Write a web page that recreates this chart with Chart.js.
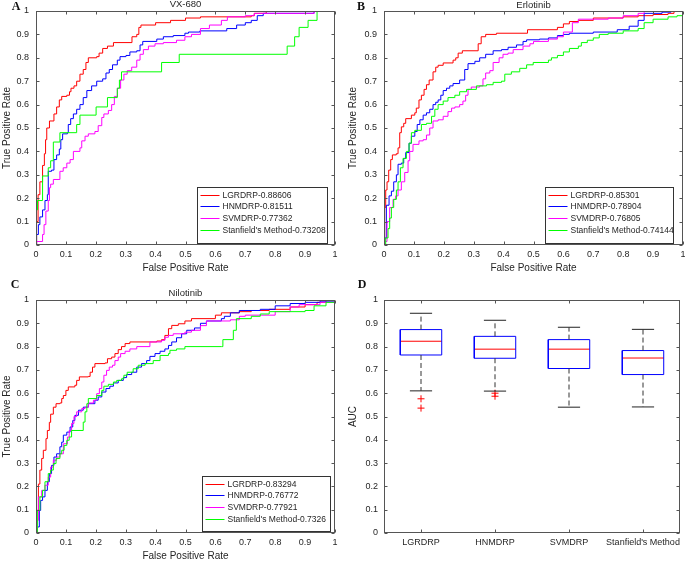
<!DOCTYPE html>
<html>
<head>
<meta charset="utf-8">
<script src="https://cdn.jsdelivr.net/npm/chart.js@4.4.0/dist/chart.umd.min.js"></script>
<style>
  body { margin: 0; background: #fff; }
  #wrap { position: relative; width: 685px; height: 562px; overflow: hidden; }
  canvas { position: absolute; }
</style>
</head>
<body>
<div id="wrap">
  <canvas id="cA" width="342" height="280" style="left:0;top:0"></canvas>
  <canvas id="cB" width="343" height="280" style="left:342px;top:0"></canvas>
  <canvas id="cC" width="342" height="292" style="left:0;top:270px"></canvas>
  <canvas id="cD" width="343" height="292" style="left:342px;top:270px"></canvas>
</div>
<script>
// ---- data ----
const methods = ['LGRDRP', 'HNMDRP', 'SVMDRP', "Stanfield's Method"];
const rateTicks = [0, 0.1, 0.2, 0.3, 0.4, 0.5, 0.6, 0.7, 0.8, 0.9, 1];
const rateTickLabels = ['0', '0.1', '0.2', '0.3', '0.4', '0.5', '0.6', '0.7', '0.8', '0.9', '1'];

// AUC shown in the legends
const aucVX680 = [0.88606, 0.81511, 0.77362, 0.73208];
const aucErlotinib = [0.85301, 0.78904, 0.76805, 0.74144];
const aucNilotinib = [0.83294, 0.76772, 0.77921, 0.7326];

// ROC curves, [FPR, TPR]
const vxLGRDRP = [[0,0],[0.002,0.1],[0.007,0.215],[0.013,0.27],[0.022,0.34],[0.028,0.39],[0.032,0.45],[0.036,0.5],[0.045,0.53],[0.06,0.56],[0.069,0.59],[0.078,0.62],[0.086,0.635],[0.103,0.64],[0.112,0.655],[0.117,0.67],[0.127,0.68],[0.136,0.7],[0.147,0.73],[0.158,0.75],[0.167,0.78],[0.175,0.8],[0.203,0.805],[0.211,0.82],[0.223,0.84],[0.239,0.85],[0.259,0.865],[0.321,0.89],[0.337,0.9],[0.344,0.93],[0.351,0.94],[0.4,0.95],[0.45,0.96],[0.5,0.97],[0.55,0.975],[0.72,0.98],[0.73,0.99],[0.77,1],[1,1]];
const vxHNMDRP = [[0,0],[0.002,0.045],[0.008,0.087],[0.013,0.12],[0.022,0.15],[0.03,0.19],[0.038,0.215],[0.041,0.315],[0.052,0.32],[0.06,0.365],[0.069,0.385],[0.078,0.41],[0.083,0.45],[0.089,0.475],[0.105,0.48],[0.108,0.515],[0.116,0.54],[0.125,0.56],[0.136,0.58],[0.147,0.6],[0.158,0.63],[0.17,0.66],[0.186,0.68],[0.203,0.7],[0.223,0.71],[0.234,0.735],[0.245,0.75],[0.256,0.77],[0.272,0.79],[0.281,0.805],[0.301,0.81],[0.314,0.825],[0.337,0.83],[0.348,0.855],[0.357,0.87],[0.404,0.88],[0.426,0.89],[0.459,0.895],[0.498,0.905],[0.51,0.91],[0.548,0.915],[0.638,0.925],[0.671,0.94],[0.7,0.95],[0.72,0.96],[0.74,0.98],[0.76,0.99],[0.93,1],[1,1]];
const vxSVMDRP = [[0,0],[0.002,0.015],[0.022,0.045],[0.027,0.087],[0.033,0.145],[0.041,0.19],[0.045,0.245],[0.049,0.26],[0.058,0.28],[0.08,0.315],[0.091,0.33],[0.103,0.35],[0.114,0.365],[0.125,0.4],[0.147,0.415],[0.153,0.445],[0.164,0.465],[0.175,0.475],[0.197,0.485],[0.208,0.51],[0.22,0.545],[0.227,0.56],[0.242,0.575],[0.253,0.6],[0.262,0.635],[0.272,0.67],[0.283,0.705],[0.294,0.73],[0.305,0.745],[0.32,0.76],[0.337,0.79],[0.348,0.815],[0.359,0.835],[0.376,0.85],[0.398,0.86],[0.426,0.865],[0.47,0.875],[0.498,0.89],[0.52,0.9],[0.55,0.925],[0.58,0.94],[0.62,0.96],[0.64,0.975],[0.7,0.98],[0.73,0.99],[0.93,1],[1,1]];
const vxStanfield = [[0,0],[0,0.15],[0.005,0.19],[0.022,0.295],[0.041,0.33],[0.049,0.36],[0.058,0.44],[0.08,0.48],[0.136,0.515],[0.147,0.555],[0.201,0.59],[0.239,0.63],[0.272,0.67],[0.279,0.705],[0.286,0.74],[0.42,0.78],[0.479,0.815],[0.84,0.85],[0.865,0.89],[0.88,0.93],[0.91,0.96],[0.94,1],[1,1]];

const erLGRDRP = [[0,0],[0.0023,0.16],[0.0057,0.235],[0.0101,0.27],[0.0157,0.32],[0.0224,0.365],[0.028,0.385],[0.041,0.39],[0.047,0.415],[0.0526,0.48],[0.058,0.505],[0.066,0.52],[0.0726,0.54],[0.0916,0.555],[0.103,0.565],[0.108,0.585],[0.117,0.62],[0.125,0.64],[0.134,0.665],[0.142,0.685],[0.151,0.705],[0.164,0.74],[0.173,0.76],[0.181,0.768],[0.198,0.778],[0.231,0.79],[0.24,0.8],[0.248,0.82],[0.262,0.83],[0.315,0.86],[0.325,0.89],[0.34,0.9],[0.376,0.905],[0.48,0.92],[0.58,0.93],[0.6,0.945],[0.62,0.955],[0.65,0.96],[0.7,0.97],[0.8,0.975],[0.85,0.98],[0.9,0.985],[0.95,0.99],[0.97,1],[1,1]];
const erHNMDRP = [[0,0],[0.0023,0.03],[0.0079,0.17],[0.0169,0.21],[0.0247,0.23],[0.0325,0.27],[0.0414,0.3],[0.047,0.345],[0.058,0.35],[0.066,0.37],[0.0726,0.395],[0.0838,0.435],[0.0916,0.465],[0.103,0.485],[0.111,0.515],[0.12,0.535],[0.131,0.555],[0.142,0.565],[0.153,0.58],[0.164,0.6],[0.173,0.61],[0.181,0.62],[0.19,0.64],[0.198,0.66],[0.209,0.67],[0.22,0.68],[0.231,0.69],[0.253,0.705],[0.27,0.75],[0.281,0.775],[0.304,0.785],[0.32,0.8],[0.34,0.815],[0.365,0.83],[0.393,0.835],[0.415,0.845],[0.443,0.855],[0.465,0.87],[0.477,0.877],[0.52,0.88],[0.55,0.885],[0.58,0.895],[0.6,0.9],[0.62,0.905],[0.7,0.91],[0.78,0.92],[0.82,0.935],[0.85,0.96],[0.87,0.99],[0.93,0.995],[0.96,1],[1,1]];
const erSVMDRP = [[0,0],[0.0023,0.015],[0.0101,0.1],[0.019,0.16],[0.0303,0.195],[0.039,0.21],[0.047,0.235],[0.058,0.27],[0.0693,0.31],[0.0805,0.36],[0.086,0.4],[0.097,0.43],[0.117,0.445],[0.131,0.45],[0.142,0.47],[0.153,0.5],[0.164,0.53],[0.181,0.535],[0.198,0.55],[0.214,0.57],[0.226,0.585],[0.237,0.59],[0.253,0.6],[0.264,0.615],[0.273,0.64],[0.281,0.665],[0.292,0.675],[0.32,0.68],[0.331,0.71],[0.34,0.735],[0.354,0.745],[0.365,0.78],[0.385,0.8],[0.398,0.815],[0.415,0.82],[0.432,0.835],[0.465,0.85],[0.488,0.86],[0.5,0.87],[0.55,0.88],[0.58,0.89],[0.6,0.91],[0.63,0.95],[0.65,0.965],[0.75,0.97],[0.8,0.98],[0.85,0.99],[0.87,1],[1,1]];
const erStanfield = [[0,0],[0.0057,0.03],[0.0135,0.07],[0.019,0.115],[0.0247,0.16],[0.0325,0.195],[0.0414,0.235],[0.047,0.27],[0.0548,0.33],[0.0637,0.37],[0.0749,0.4],[0.0838,0.435],[0.0916,0.48],[0.103,0.49],[0.125,0.515],[0.142,0.52],[0.159,0.55],[0.17,0.58],[0.181,0.6],[0.198,0.615],[0.214,0.63],[0.237,0.64],[0.253,0.655],[0.276,0.665],[0.309,0.68],[0.343,0.685],[0.365,0.695],[0.393,0.7],[0.404,0.73],[0.426,0.74],[0.454,0.755],[0.477,0.77],[0.499,0.78],[0.55,0.79],[0.56,0.8],[0.58,0.81],[0.6,0.825],[0.62,0.84],[0.65,0.85],[0.66,0.865],[0.68,0.875],[0.7,0.885],[0.72,0.9],[0.75,0.905],[0.8,0.915],[0.85,0.925],[0.87,0.95],[0.9,0.965],[0.95,0.975],[0.98,0.98],[1,1]];

const niLGRDRP = [[0,0],[0.002,0.097],[0.008,0.21],[0.013,0.27],[0.019,0.32],[0.0245,0.355],[0.0334,0.405],[0.038,0.44],[0.0446,0.475],[0.049,0.51],[0.058,0.54],[0.067,0.555],[0.08,0.558],[0.086,0.577],[0.0914,0.59],[0.1,0.612],[0.108,0.627],[0.13,0.634],[0.136,0.655],[0.145,0.67],[0.175,0.672],[0.181,0.69],[0.189,0.712],[0.197,0.727],[0.231,0.73],[0.239,0.748],[0.253,0.755],[0.264,0.77],[0.275,0.787],[0.286,0.8],[0.298,0.813],[0.314,0.82],[0.404,0.824],[0.42,0.83],[0.431,0.848],[0.443,0.877],[0.454,0.891],[0.476,0.898],[0.498,0.91],[0.52,0.92],[0.6,0.935],[0.62,0.945],[0.68,0.95],[0.72,0.955],[0.78,0.96],[0.85,0.97],[0.9,0.98],[0.94,0.99],[0.97,1],[1,1]];
const niHNMDRP = [[0,0],[0.0045,0.026],[0.0111,0.097],[0.0156,0.14],[0.022,0.155],[0.03,0.183],[0.038,0.22],[0.0446,0.255],[0.052,0.29],[0.06,0.326],[0.069,0.34],[0.08,0.37],[0.086,0.39],[0.0914,0.42],[0.103,0.433],[0.114,0.455],[0.123,0.483],[0.13,0.505],[0.142,0.527],[0.158,0.54],[0.175,0.555],[0.197,0.57],[0.208,0.584],[0.22,0.605],[0.234,0.62],[0.247,0.63],[0.259,0.644],[0.275,0.655],[0.292,0.667],[0.303,0.68],[0.32,0.69],[0.337,0.712],[0.353,0.727],[0.37,0.74],[0.381,0.758],[0.398,0.77],[0.415,0.78],[0.431,0.79],[0.443,0.805],[0.454,0.82],[0.47,0.838],[0.487,0.855],[0.504,0.87],[0.53,0.88],[0.55,0.9],[0.57,0.91],[0.62,0.92],[0.63,0.93],[0.65,0.945],[0.68,0.955],[0.75,0.96],[0.8,0.975],[0.85,0.985],[0.9,0.99],[0.95,0.995],[1,1]];
const niSVMDRP = [[0,0],[0.0045,0.054],[0.008,0.155],[0.019,0.183],[0.03,0.205],[0.041,0.24],[0.049,0.283],[0.058,0.312],[0.069,0.326],[0.08,0.34],[0.0914,0.383],[0.105,0.412],[0.111,0.44],[0.119,0.47],[0.127,0.5],[0.136,0.52],[0.153,0.534],[0.164,0.54],[0.175,0.558],[0.192,0.57],[0.203,0.598],[0.212,0.62],[0.22,0.648],[0.227,0.677],[0.236,0.698],[0.245,0.712],[0.256,0.72],[0.264,0.74],[0.275,0.755],[0.283,0.77],[0.298,0.78],[0.314,0.79],[0.337,0.8],[0.381,0.82],[0.42,0.827],[0.431,0.84],[0.443,0.848],[0.459,0.855],[0.498,0.862],[0.52,0.87],[0.55,0.89],[0.57,0.91],[0.65,0.915],[0.68,0.93],[0.7,0.935],[0.8,0.95],[0.85,0.97],[0.88,0.98],[0.95,0.99],[1,1]];
const niStanfield = [[0,0],[0.0045,0.097],[0.013,0.155],[0.022,0.183],[0.03,0.22],[0.041,0.255],[0.049,0.27],[0.058,0.298],[0.067,0.32],[0.08,0.34],[0.086,0.355],[0.094,0.376],[0.103,0.398],[0.111,0.412],[0.119,0.44],[0.158,0.476],[0.164,0.52],[0.17,0.555],[0.175,0.577],[0.203,0.59],[0.22,0.612],[0.227,0.63],[0.242,0.638],[0.259,0.648],[0.27,0.655],[0.286,0.662],[0.294,0.677],[0.305,0.69],[0.325,0.705],[0.342,0.72],[0.365,0.727],[0.392,0.74],[0.415,0.762],[0.443,0.77],[0.448,0.784],[0.47,0.79],[0.498,0.8],[0.62,0.8],[0.625,0.83],[0.66,0.87],[0.67,0.92],[0.72,0.93],[0.75,0.94],[0.78,0.95],[0.9,0.955],[0.93,0.975],[0.97,0.99],[1,1]];

// box plot of AUC per method
const aucTicks = [0, 0.1, 0.2, 0.3, 0.4, 0.5, 0.6, 0.7, 0.8, 0.9, 1];
const aucTickLabels = ['0', '0.1', '0.2', '0.3', '0.4', '0.5', '0.6', '0.7', '0.8', '0.9', '1'];
const boxUpper = [0.943, 0.913, 0.883, 0.874];
const boxQ3 = [0.873, 0.844, 0.83, 0.783];
const boxMedian = [0.823, 0.789, 0.789, 0.751];
const boxQ1 = [0.764, 0.75, 0.706, 0.68];
const boxLower = [0.61, 0.609, 0.54, 0.541];
const boxOutliers = [[0.576, 0.536], [0.6, 0.587], [], []];

// ---- styling ----
const FONT = "'Liberation Sans', Arial, sans-serif";
const TEXT = '#262626';
const FRAME = '#555';
const COLORS = ['#ff0000', '#0000ff', '#ff00ff', '#00ff00'];
const BOX_HALF = 0.28;
const CAP_HALF = 0.15;

// frame, inward ticks, title, panel letter and the in-plot legend
const panelPlugin = {
  id: 'panel',
  afterDraw(chart, args, opts) {
    const { ctx, chartArea: a } = chart;
    const xs = chart.scales.x, ys = chart.scales.y;
    const L = Math.round(a.left) + 0.5, R = Math.round(a.right) - 0.5;
    const T = Math.round(a.top) + 0.5, B = Math.round(a.bottom) - 0.5;
    ctx.save();
    ctx.strokeStyle = FRAME;
    ctx.lineWidth = 1;
    ctx.strokeRect(L, T, R - L, B - T);
    ctx.beginPath();
    xs.ticks.forEach(t => {
      const px = Math.round(xs.getPixelForValue(t.value)) + 0.5;
      ctx.moveTo(px, B); ctx.lineTo(px, B - 3);
      ctx.moveTo(px, T); ctx.lineTo(px, T + 3);
    });
    ys.ticks.forEach(t => {
      const py = Math.round(ys.getPixelForValue(t.value)) + 0.5;
      ctx.moveTo(L, py); ctx.lineTo(L + 3, py);
      ctx.moveTo(R, py); ctx.lineTo(R - 3, py);
    });
    ctx.stroke();

    ctx.fillStyle = TEXT;
    ctx.textBaseline = 'middle';
    if (opts.title) {
      ctx.font = '9.5px ' + FONT;
      ctx.textAlign = 'center';
      ctx.fillText(opts.title, (a.left + a.right) / 2, opts.titleY);
    }
    ctx.font = "bold 12px 'Liberation Serif', 'Times New Roman', serif";
    ctx.textAlign = 'center';
    ctx.textBaseline = 'alphabetic';
    ctx.fillStyle = '#111';
    ctx.fillText(opts.letter, opts.letterX, opts.letterY);

    if (opts.legend) {
      const lg = opts.legend;
      const bx = Math.round(a.right - lg.right - lg.w) + 0.5;
      const by = Math.round(a.bottom - lg.bottom - lg.h) + 0.5;
      ctx.fillStyle = '#fff';
      ctx.fillRect(bx, by, lg.w, lg.h);
      ctx.strokeStyle = '#333';
      ctx.strokeRect(bx, by, lg.w, lg.h);
      ctx.font = '8.5px ' + FONT;
      ctx.textAlign = 'left';
      ctx.textBaseline = 'middle';
      chart.data.datasets.forEach((ds, i) => {
        const ry = Math.round(by + 7 + i * 11.7) + 0.5;
        ctx.strokeStyle = ds.borderColor;
        ctx.beginPath();
        ctx.moveTo(bx + 3, ry); ctx.lineTo(bx + 22, ry);
        ctx.stroke();
        ctx.fillStyle = TEXT;
        ctx.fillText(ds.label, bx + 25, ry);
      });
    }
    ctx.restore();
  }
};

function fixedTicks(values) {
  return s => { s.ticks = values.map(v => ({ value: v })); };
}

function rocChart(id, geo, aucs, curves) {
  new Chart(document.getElementById(id), {
    type: 'line',
    data: {
      datasets: curves.map((c, i) => ({
        label: methods[i] + '-' + aucs[i],
        data: c.map(p => ({ x: p[0], y: p[1] })),
        borderColor: COLORS[i],
        borderWidth: 1,
        pointRadius: 0,
        stepped: 'before',
        fill: false,
        order: 4 - i
      }))
    },
    options: {
      responsive: false,
      animation: false,
      events: [],
      layout: { padding: { left: 0, right: geo.padRight, top: geo.padTop, bottom: 0 } },
      plugins: {
        legend: { display: false },
        tooltip: { enabled: false },
        panel: geo.panel
      },
      scales: {
        x: {
          type: 'linear', min: 0, max: 1,
          afterBuildTicks: fixedTicks(rateTicks),
          afterFit(s) { s.height = geo.xHeight; s.paddingLeft = 0; s.paddingRight = 0; },
          ticks: { callback: (v, i) => rateTickLabels[i], font: { size: 9, family: FONT }, color: TEXT, padding: 4, maxRotation: 0, autoSkip: false },
          grid: { display: false, drawTicks: false },
          border: { display: false },
          title: { display: true, text: 'False Positive Rate', color: TEXT, font: { size: 10, family: FONT }, padding: { top: 0, bottom: geo.xTitleBottom } }
        },
        y: {
          type: 'linear', min: 0, max: 1,
          afterBuildTicks: fixedTicks(rateTicks),
          afterFit(s) { s.width = geo.yWidth; s.paddingTop = 0; s.paddingBottom = 0; },
          ticks: { callback: (v, i) => rateTickLabels[i], font: { size: 9, family: FONT }, color: TEXT, padding: 7, autoSkip: false },
          grid: { display: false, drawTicks: false },
          border: { display: false },
          title: { display: true, text: 'True Positive Rate', color: TEXT, font: { size: 10, family: FONT }, padding: { top: geo.yTitlePad, bottom: 0 } }
        }
      }
    },
    plugins: [panelPlugin]
  });
}

rocChart('cA', {
  padRight: 7, padTop: 11, xHeight: 35, yWidth: 36, xTitleBottom: 6, yTitlePad: 1,
  panel: { title: 'VX-680', titleY: 4, letter: 'A', letterX: 16, letterY: 10, legend: { right: 8, bottom: 2, w: 130, h: 56 } }
}, aucVX680, [vxLGRDRP, vxHNMDRP, vxSVMDRP, vxStanfield]);

rocChart('cB', {
  padRight: 2, padTop: 11, xHeight: 35, yWidth: 42, xTitleBottom: 6, yTitlePad: 5,
  panel: { title: 'Erlotinib', titleY: 5, letter: 'B', letterX: 19, letterY: 10, legend: { right: 10, bottom: 2, w: 128, h: 56 } }
}, aucErlotinib, [erLGRDRP, erHNMDRP, erSVMDRP, erStanfield]);

rocChart('cC', {
  padRight: 7, padTop: 30, xHeight: 29, yWidth: 36, xTitleBottom: 0, yTitlePad: 1,
  panel: { title: 'Nilotinib', titleY: 23, letter: 'C', letterX: 15, letterY: 18, legend: { right: 5, bottom: 2, w: 128, h: 55 } }
}, aucNilotinib, [niLGRDRP, niHNMDRP, niSVMDRP, niStanfield]);

// ---- box plot (D) built from the quartile arrays ----
const boxPos = methods.map((m, i) => i + 1);
const gap = x => ({ x: x, y: null });
const boxPts = [], medPts = [], whiskPts = [], capPts = [], outPts = [];
boxPos.forEach((x, i) => {
  boxPts.push({ x: x - BOX_HALF, y: boxQ1[i] }, { x: x + BOX_HALF, y: boxQ1[i] },
              { x: x + BOX_HALF, y: boxQ3[i] }, { x: x - BOX_HALF, y: boxQ3[i] },
              { x: x - BOX_HALF, y: boxQ1[i] }, gap(x));
  medPts.push({ x: x - BOX_HALF, y: boxMedian[i] }, { x: x + BOX_HALF, y: boxMedian[i] }, gap(x));
  whiskPts.push({ x: x, y: boxQ3[i] }, { x: x, y: boxUpper[i] }, gap(x),
                { x: x, y: boxQ1[i] }, { x: x, y: boxLower[i] }, gap(x));
  capPts.push({ x: x - CAP_HALF, y: boxUpper[i] }, { x: x + CAP_HALF, y: boxUpper[i] }, gap(x),
              { x: x - CAP_HALF, y: boxLower[i] }, { x: x + CAP_HALF, y: boxLower[i] }, gap(x));
  boxOutliers[i].forEach(v => outPts.push({ x: x, y: v }));
});

const segStyle = { borderWidth: 1, pointRadius: 0, fill: false, spanGaps: false, tension: 0 };
new Chart(document.getElementById('cD'), {
  type: 'line',
  data: {
    datasets: [
      Object.assign({ data: whiskPts, borderColor: '#333', borderDash: [5, 3] }, segStyle),
      Object.assign({ data: capPts, borderColor: '#222' }, segStyle),
      Object.assign({ data: boxPts, borderColor: '#0000ff' }, segStyle),
      Object.assign({ data: medPts, borderColor: '#ff0000' }, segStyle),
      { data: outPts, showLine: false, pointStyle: 'cross', pointRadius: 3.5, borderColor: '#ff0000', borderWidth: 1 }
    ]
  },
  options: {
    responsive: false,
    animation: false,
    events: [],
    layout: { padding: { left: 0, right: 2, top: 30, bottom: 0 } },
    plugins: {
      legend: { display: false },
      tooltip: { enabled: false },
      panel: { letter: 'D', letterX: 20, letterY: 18 }
    },
    scales: {
      x: {
        type: 'linear', min: 0.5, max: 4.5,
        afterBuildTicks: fixedTicks(boxPos),
        afterFit(s) { s.height = 29; s.paddingLeft = 0; s.paddingRight = 0; },
        ticks: { callback: (v, i) => methods[i], font: { size: 9, family: FONT }, color: TEXT, padding: 4, maxRotation: 0, autoSkip: false },
        grid: { display: false, drawTicks: false },
        border: { display: false }
      },
      y: {
        type: 'linear', min: 0, max: 1,
        afterBuildTicks: fixedTicks(aucTicks),
        afterFit(s) { s.width = 42; s.paddingTop = 0; s.paddingBottom = 0; },
        ticks: { callback: (v, i) => aucTickLabels[i], font: { size: 9, family: FONT }, color: TEXT, padding: 6, autoSkip: false },
        grid: { display: false, drawTicks: false },
        border: { display: false },
        title: { display: true, text: 'AUC', color: TEXT, font: { size: 10, family: FONT }, padding: { top: 5, bottom: 0 } }
      }
    }
  },
  plugins: [panelPlugin]
});
</script>
</body>
</html>
